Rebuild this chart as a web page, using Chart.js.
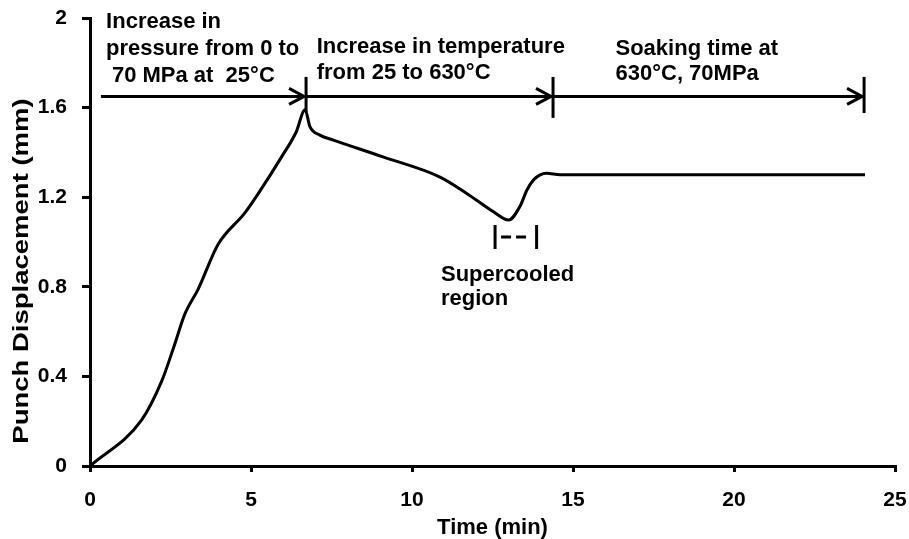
<!DOCTYPE html>
<html>
<head>
<meta charset="utf-8">
<script src="https://cdn.jsdelivr.net/npm/chart.js@4/dist/chart.umd.min.js"></script>
<style>
	body { margin: 0; background: #fff; }
	#wrap { width: 909px; height: 539px; }
</style>
</head>
<body>
<div id="wrap"><canvas id="punchChart" width="909" height="539"></canvas></div>
<script>
// punch displacement vs time
var timeMin = [0, 1.6, 2.23, 2.6, 2.95, 3.36, 3.98, 4.81, 5.23, 5.95, 6.4, 6.68,
	6.83, 7.14, 7.56, 9.1, 10.87, 11.7, 12.53, 13.0, 13.35, 13.57, 13.77, 13.98, 14.18, 14.6, 24.07];
var displacement = [0, 0.205, 0.38, 0.53, 0.68, 0.79, 0.99, 1.13, 1.217, 1.38, 1.49, 1.59,
	1.515, 1.477, 1.455, 1.38, 1.29, 1.217, 1.135, 1.098, 1.158, 1.232, 1.277, 1.30, 1.307, 1.30, 1.30];

// process stages (start of first arrow, then stage ends) at the arrow level
var stageTimes = [0.34, 6.71, 14.38, 24.04];
var stageLevel = 1.65;
var stageText = [
	['Increase in', 'pressure from 0 to', '70 MPa at  25\u00B0C'],
	['Increase in temperature', 'from 25 to 630\u00B0C'],
	['Soaking time at', '630\u00B0C, 70MPa']
];

// supercooled span on the time axis
var supercooled = [12.58, 13.87];
var supercooledText = ['Supercooled', 'region'];

var xTicks = [0, 5, 10, 15, 20, 25];
var yTicks = [0, 0.4, 0.8, 1.2, 1.6, 2];
var yTitle = 'Punch Displacement (mm)';

var fontFamily = "'Liberation Sans', Arial, sans-serif";

var points = [];
for (var i = 0; i < timeMin.length; i++) {
	points.push({ x: timeMin[i], y: displacement[i] });
}

function drawLines(ctx, x, y, lines, lineGap) {
	for (var i = 0; i < lines.length; i++) {
		ctx.fillText(lines[i], x, y + i * lineGap);
	}
}

// keep label overhang from pushing the plot area in
function noScalePadding(scale) {
	scale.paddingTop = 0;
	scale.paddingBottom = 0;
	scale.paddingLeft = 0;
	scale.paddingRight = 0;
}

var overlayPlugin = {
	id: 'overlay',
	afterDatasetsDraw: function(chart) {
		var ctx = chart.ctx;
		var sx = chart.scales.x;
		var sy = chart.scales.y;
		var ay = sy.getPixelForValue(stageLevel);

		ctx.save();
		ctx.strokeStyle = '#000';
		ctx.lineWidth = 3;
		ctx.lineCap = 'butt';

		// stage arrows
		for (var i = 0; i < stageTimes.length - 1; i++) {
			var x0 = sx.getPixelForValue(stageTimes[i]);
			var x1 = sx.getPixelForValue(stageTimes[i + 1]);
			ctx.beginPath();
			ctx.moveTo(x0, ay);
			ctx.lineTo(x1 - 2, ay);
			ctx.stroke();
			ctx.beginPath();
			ctx.moveTo(x1 - 17, ay - 8);
			ctx.lineTo(x1 - 2, ay);
			ctx.lineTo(x1 - 17, ay + 8);
			ctx.stroke();
		}
		// stage boundary bars
		var barTop = sy.getPixelForValue(1.737);
		var barBottoms = [1.58, 1.554, 1.576];
		for (var j = 1; j < stageTimes.length; j++) {
			var bx = sx.getPixelForValue(stageTimes[j]);
			ctx.beginPath();
			ctx.moveTo(bx, barTop);
			ctx.lineTo(bx, sy.getPixelForValue(barBottoms[j - 1]));
			ctx.stroke();
		}

		// supercooled marker |--|
		var sx0 = sx.getPixelForValue(supercooled[0]);
		var sx1 = sx.getPixelForValue(supercooled[1]);
		var st = sy.getPixelForValue(1.076);
		var sb = sy.getPixelForValue(0.969);
		var sm = sy.getPixelForValue(1.022);
		ctx.beginPath();
		ctx.moveTo(sx0, st); ctx.lineTo(sx0, sb);
		ctx.moveTo(sx1, st); ctx.lineTo(sx1, sb);
		ctx.stroke();
		ctx.setLineDash([10, 5]);
		ctx.beginPath();
		ctx.moveTo(sx0 + 6, sm);
		ctx.lineTo(sx1 - 6, sm);
		ctx.stroke();
		ctx.setLineDash([]);

		// text notes
		ctx.fillStyle = '#000';
		ctx.font = 'bold 22px ' + fontFamily;
		ctx.textAlign = 'left';
		ctx.textBaseline = 'alphabetic';
		drawLines(ctx, sx.getPixelForValue(0.5), sy.getPixelForValue(1.955), stageText[0].slice(0, 2), 27);
		ctx.fillText(stageText[0][2], sx.getPixelForValue(0.68), sy.getPixelForValue(1.714));
		drawLines(ctx, sx.getPixelForValue(7.04), sy.getPixelForValue(1.844), stageText[1], 26);
		drawLines(ctx, sx.getPixelForValue(16.32), sy.getPixelForValue(1.835), stageText[2], 25);
		drawLines(ctx, sx.getPixelForValue(10.9), sy.getPixelForValue(0.827), supercooledText, 24);

		// y axis title, a bit stretched along its length
		ctx.translate(22, 271);
		ctx.rotate(-Math.PI / 2);
		ctx.scale(1.25, 1);
		ctx.textAlign = 'center';
		ctx.textBaseline = 'middle';
		ctx.fillText(yTitle, 0, 0);
		ctx.restore();
	}
};

var ctx = document.getElementById('punchChart').getContext('2d');
var punchChart = new Chart(ctx, {
	type: 'line',
	data: {
		datasets: [{
			data: points,
			borderColor: '#000',
			borderWidth: 3,
			pointRadius: 0,
			fill: false,
			cubicInterpolationMode: 'monotone'
		}]
	},
	options: {
		responsive: false,
		animation: false,
		events: [],
		layout: { padding: { top: 18, right: 14, left: 0, bottom: 0 } },
		plugins: { legend: { display: false }, tooltip: { enabled: false } },
		scales: {
			x: {
				type: 'linear',
				min: xTicks[0],
				max: xTicks[xTicks.length - 1],
				afterBuildTicks: function(scale) {
					scale.ticks = xTicks.map(function(v) { return { value: v }; });
				},
				afterFit: function(scale) { scale.height = 73; noScalePadding(scale); },
				border: { color: '#000', width: 3 },
				grid: { drawOnChartArea: false, color: '#000', lineWidth: 3, tickLength: 6 },
				ticks: {
					color: '#000',
					padding: 16,
					font: { family: fontFamily, size: 21, weight: 'bold' }
				},
				title: {
					display: true,
					text: 'Time (min)',
					color: '#000',
					padding: { top: 0, bottom: 0 },
					font: { family: fontFamily, size: 22, weight: 'bold', lineHeight: 1 }
				}
			},
			y: {
				min: yTicks[0],
				max: yTicks[yTicks.length - 1],
				afterBuildTicks: function(scale) {
					scale.ticks = yTicks.map(function(v) { return { value: v }; });
				},
				afterFit: function(scale) { scale.width = 90; noScalePadding(scale); },
				border: { color: '#000', width: 3 },
				grid: { drawOnChartArea: false, color: '#000', lineWidth: 3, tickLength: 8 },
				ticks: {
					color: '#000',
					padding: 15,
					font: { family: fontFamily, size: 21, weight: 'bold' },
					callback: function(v) { return String(Number(v.toFixed(1))); }
				}
			}
		}
	},
	plugins: [overlayPlugin]
});
</script>
</body>
</html>
